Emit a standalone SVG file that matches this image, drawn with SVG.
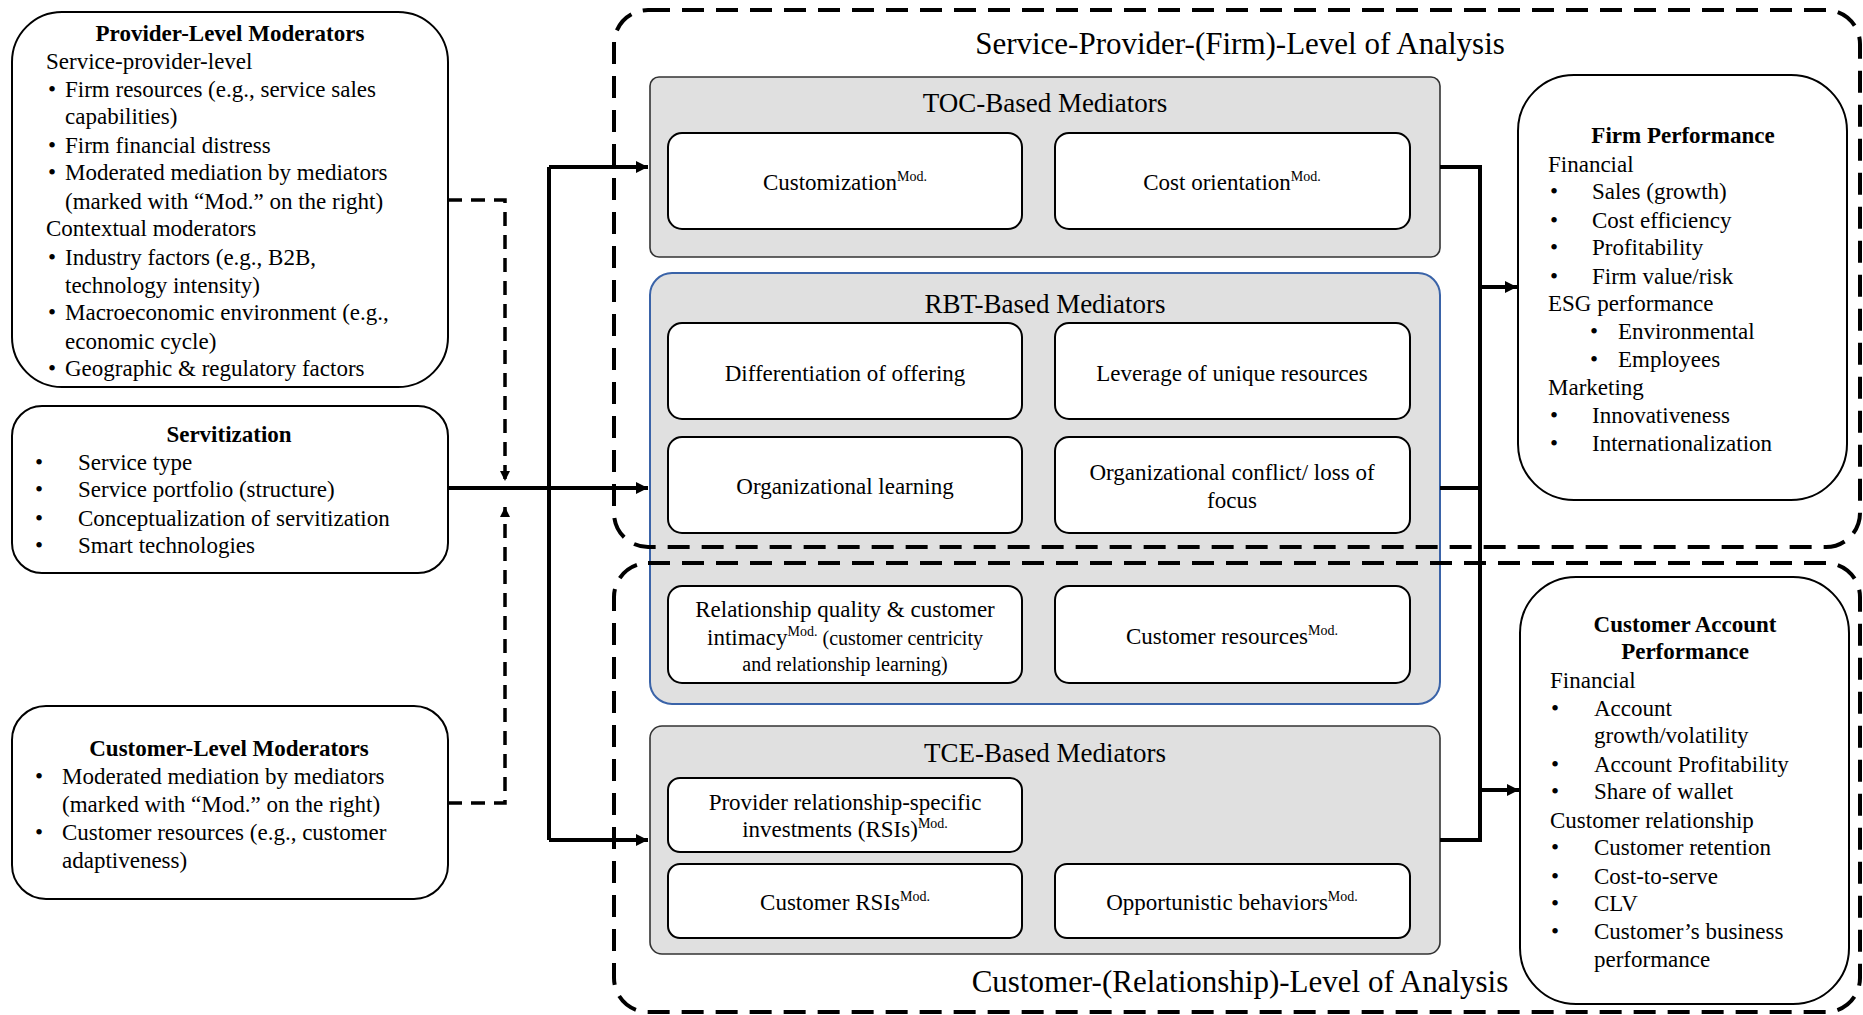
<svg xmlns="http://www.w3.org/2000/svg" width="1863" height="1015" viewBox="0 0 1863 1015">
<style>
text{font-family:"Liberation Serif","Times New Roman",serif;fill:#000;font-size:23px}
.b{font-weight:bold}
.c{text-anchor:middle}
.gt{font-size:27px;text-anchor:middle}
.lt{font-size:31px;text-anchor:middle}
.box{fill:#fff;stroke:#000;stroke-width:2}
.med{fill:#fff;stroke:#000;stroke-width:2}
.grp{fill:#e0e0e0;stroke:#333;stroke-width:1.6}
.rbt{fill:#e0e0e0;stroke:#3a63a8;stroke-width:2}
.lvl{fill:none;stroke:#000;stroke-width:4;stroke-dasharray:22 12}
.con{fill:none;stroke:#000;stroke-width:4}
.dash{fill:none;stroke:#000;stroke-width:3.5;stroke-dasharray:14 9}
.sup{font-size:14px}
.par{font-size:20px}
</style>
<defs>
<marker id="ah" viewBox="0 0 10 10" refX="10" refY="5" markerUnits="userSpaceOnUse" markerWidth="14" markerHeight="12" orient="auto"><path d="M0,0 L10,5 L0,10 z" fill="#000"/></marker>
<marker id="ahs" viewBox="0 0 10 10" refX="10" refY="5" markerUnits="userSpaceOnUse" markerWidth="11" markerHeight="10" orient="auto"><path d="M0,0 L10,5 L0,10 z" fill="#000"/></marker>
</defs>

<!-- Mediator group backgrounds -->
<g id="toc-group"><rect class="grp" x="650" y="77" width="790" height="180" rx="9"/><text class="gt" x="1045" y="112">TOC-Based Mediators</text></g>
<g id="rbt-group"><rect class="rbt" x="650" y="273" width="790" height="431" rx="22"/><text class="gt" x="1045" y="313">RBT-Based Mediators</text></g>
<g id="tce-group"><rect class="grp" x="650" y="726" width="790" height="228" rx="12"/><text class="gt" x="1045" y="762">TCE-Based Mediators</text></g>

<!-- Level-of-analysis regions -->
<g id="firm-level"><rect class="lvl" x="614" y="10" width="1246" height="537" rx="34"/><text class="lt" x="1240" y="54">Service-Provider-(Firm)-Level of Analysis</text></g>
<g id="customer-level"><rect class="lvl" x="614" y="563" width="1246" height="449" rx="34"/><text class="lt" x="1240" y="992">Customer-(Relationship)-Level of Analysis</text></g>

<!-- Connectors -->
<g id="connectors">
<path class="con" d="M448,488 H648" marker-end="url(#ah)"/>
<path class="con" d="M549,167 V840"/>
<path class="con" d="M549,167 H648" marker-end="url(#ah)"/>
<path class="con" d="M549,840 H648" marker-end="url(#ah)"/>
<path class="con" d="M1440,167 H1480 V840 H1440"/>
<path class="con" d="M1440,488 H1480"/>
<path class="con" d="M1480,287 H1517" marker-end="url(#ah)"/>
<path class="con" d="M1480,790 H1519" marker-end="url(#ah)"/>
<path class="dash" d="M448,200 H505 V481" marker-end="url(#ahs)"/>
<path class="dash" d="M448,803 H505 V507" marker-end="url(#ahs)"/>
</g>

<!-- Left nodes -->
<g id="provider-moderators">
<rect class="box" x="12" y="12" width="436" height="375" rx="50"/>
<text class="b c" x="230" y="41">Provider-Level Moderators</text>
<text x="46" y="69">Service-provider-level</text>
<text x="48" y="97">•</text><text x="65" y="97">Firm resources (e.g., service sales</text>
<text x="65" y="124">capabilities)</text>
<text x="48" y="153">•</text><text x="65" y="153">Firm financial distress</text>
<text x="48" y="180">•</text><text x="65" y="180">Moderated mediation by mediators</text>
<text x="65" y="209">(marked with “Mod.” on the right)</text>
<text x="46" y="236">Contextual moderators</text>
<text x="48" y="265">•</text><text x="65" y="265">Industry factors (e.g., B2B,</text>
<text x="65" y="293">technology intensity)</text>
<text x="48" y="320">•</text><text x="65" y="320">Macroeconomic environment (e.g.,</text>
<text x="65" y="349">economic cycle)</text>
<text x="48" y="376">•</text><text x="65" y="376">Geographic &amp; regulatory factors</text>
</g>

<g id="servitization">
<rect class="box" x="12" y="406" width="436" height="167" rx="30"/>
<text class="b c" x="229" y="442">Servitization</text>
<text x="35" y="470">•</text><text x="78" y="470">Service type</text>
<text x="35" y="497">•</text><text x="78" y="497">Service portfolio (structure)</text>
<text x="35" y="526">•</text><text x="78" y="526">Conceptualization of servitization</text>
<text x="35" y="553">•</text><text x="78" y="553">Smart technologies</text>
</g>

<g id="customer-moderators">
<rect class="box" x="12" y="706" width="436" height="193" rx="34"/>
<text class="b c" x="229" y="756">Customer-Level Moderators</text>
<text x="35" y="784">•</text><text x="62" y="784">Moderated mediation by mediators</text>
<text x="62" y="812">(marked with “Mod.” on the right)</text>
<text x="35" y="840">•</text><text x="62" y="840">Customer resources (e.g., customer</text>
<text x="62" y="868">adaptiveness)</text>
</g>

<!-- Mediator nodes -->
<g id="customization"><rect class="med" x="668" y="133" width="354" height="96" rx="14"/><text class="c" x="845" y="190">Customization<tspan class="sup" dy="-9">Mod.</tspan></text></g>
<g id="cost-orientation"><rect class="med" x="1055" y="133" width="355" height="96" rx="14"/><text class="c" x="1232" y="190">Cost orientation<tspan class="sup" dy="-9">Mod.</tspan></text></g>

<g id="differentiation"><rect class="med" x="668" y="323" width="354" height="96" rx="14"/><text class="c" x="845" y="381">Differentiation of offering</text></g>
<g id="leverage"><rect class="med" x="1055" y="323" width="355" height="96" rx="14"/><text class="c" x="1232" y="381">Leverage of unique resources</text></g>
<g id="org-learning"><rect class="med" x="668" y="437" width="354" height="96" rx="14"/><text class="c" x="845" y="494">Organizational learning</text></g>
<g id="org-conflict"><rect class="med" x="1055" y="437" width="355" height="96" rx="14"/><text class="c" x="1232" y="480">Organizational conflict/ loss of</text><text class="c" x="1232" y="508">focus</text></g>
<g id="relationship-quality"><rect class="med" x="668" y="586" width="354" height="97" rx="14"/>
<text class="c" x="845" y="617">Relationship quality &amp; customer</text>
<text class="c" x="845" y="645">intimacy<tspan class="sup" dy="-9">Mod.</tspan><tspan class="par" dy="9"> (customer centricity</tspan></text>
<text class="c par" x="845" y="671">and relationship learning)</text></g>
<g id="customer-resources"><rect class="med" x="1055" y="586" width="355" height="97" rx="14"/><text class="c" x="1232" y="644">Customer resources<tspan class="sup" dy="-9">Mod.</tspan></text></g>

<g id="provider-rsis"><rect class="med" x="668" y="778" width="354" height="74" rx="12"/><text class="c" x="845" y="810">Provider relationship-specific</text><text class="c" x="845" y="837">investments (RSIs)<tspan class="sup" dy="-9">Mod.</tspan></text></g>
<g id="customer-rsis"><rect class="med" x="668" y="864" width="354" height="74" rx="12"/><text class="c" x="845" y="910">Customer RSIs<tspan class="sup" dy="-9">Mod.</tspan></text></g>
<g id="opportunistic"><rect class="med" x="1055" y="864" width="355" height="74" rx="12"/><text class="c" x="1232" y="910">Opportunistic behaviors<tspan class="sup" dy="-9">Mod.</tspan></text></g>

<!-- Right nodes -->
<g id="firm-performance">
<rect class="box" x="1518" y="75" width="329" height="425" rx="56"/>
<text class="b c" x="1683" y="143">Firm Performance</text>
<text x="1548" y="172">Financial</text>
<text x="1550" y="199">•</text><text x="1592" y="199">Sales (growth)</text>
<text x="1550" y="228">•</text><text x="1592" y="228">Cost efficiency</text>
<text x="1550" y="255">•</text><text x="1592" y="255">Profitability</text>
<text x="1550" y="284">•</text><text x="1592" y="284">Firm value/risk</text>
<text x="1548" y="311">ESG performance</text>
<text x="1590" y="339">•</text><text x="1618" y="339">Environmental</text>
<text x="1590" y="367">•</text><text x="1618" y="367">Employees</text>
<text x="1548" y="395">Marketing</text>
<text x="1550" y="423">•</text><text x="1592" y="423">Innovativeness</text>
<text x="1550" y="451">•</text><text x="1592" y="451">Internationalization</text>
</g>

<g id="customer-account-performance">
<rect class="box" x="1520" y="577" width="329" height="427" rx="56"/>
<text class="b c" x="1685" y="632">Customer Account</text>
<text class="b c" x="1685" y="659">Performance</text>
<text x="1550" y="688">Financial</text>
<text x="1551" y="716">•</text><text x="1594" y="716">Account</text>
<text x="1594" y="743">growth/volatility</text>
<text x="1551" y="772">•</text><text x="1594" y="772">Account Profitability</text>
<text x="1551" y="799">•</text><text x="1594" y="799">Share of wallet</text>
<text x="1550" y="828">Customer relationship</text>
<text x="1551" y="855">•</text><text x="1594" y="855">Customer retention</text>
<text x="1551" y="884">•</text><text x="1594" y="884">Cost-to-serve</text>
<text x="1551" y="911">•</text><text x="1594" y="911">CLV</text>
<text x="1551" y="939">•</text><text x="1594" y="939">Customer’s business</text>
<text x="1594" y="967">performance</text>
</g>
</svg>
